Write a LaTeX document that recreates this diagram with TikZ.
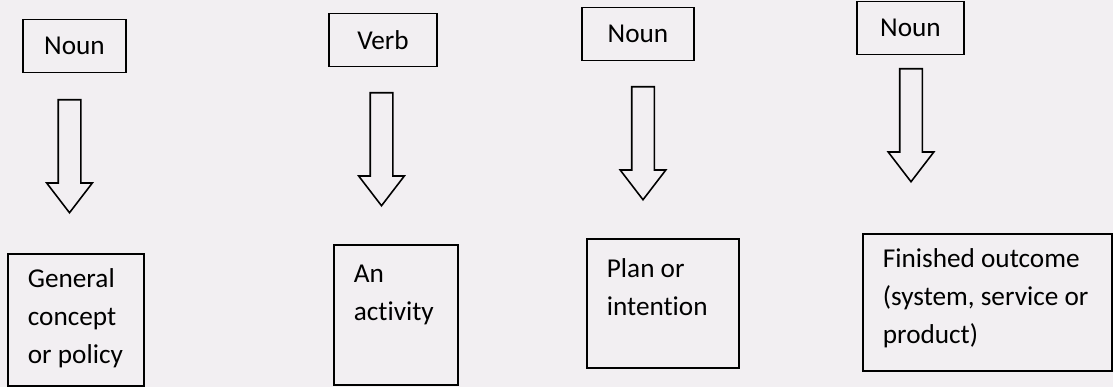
\documentclass[tikz,border=0pt]{standalone}
\usepackage{fontspec}
\setmainfont{Carlito}[Ligatures=NoCommon]
\usetikzlibrary{shapes.arrows, positioning, calc}
\definecolor{paper}{RGB}{242,239,242}
\tikzstyle{wordbox} = [rectangle, minimum height=1.06cm, text centered, draw=black, line width=1pt, font=\fontsize{15.5}{18}\selectfont]
\tikzstyle{meaning} = [rectangle, anchor=north west, align=flush left, inner xsep=0.40cm, inner ysep=0pt, draw=black, line width=1pt, font=\fontsize{15.5}{21.6}\selectfont, execute at begin node={\hyphenpenalty10000 }]
\tikzstyle{blockarrow} = [single arrow, draw=black, line width=0.9pt, rotate=-90, inner xsep=0pt, inner ysep=0.21cm, minimum height=2.26cm, single arrow head extend=0.23cm, single arrow tip angle=75]

\begin{document}
\begin{tikzpicture}

	\path[use as bounding box, fill=paper] (0,0) rectangle (22.26,-7.74);

		% word class boxes on top
		\node (noun1) [wordbox, minimum width=2.06cm] at (1.49,-0.92) {Noun};
		\node (verb) [wordbox, minimum width=2.16cm] at (7.66,-0.80) {Verb};
		\node (noun2) [wordbox, minimum width=2.24cm] at (12.76,-0.68) {Noun};
		\node (noun3) [wordbox, minimum width=2.14cm] at (18.21,-0.56) {Noun};

		% hollow arrows
		\node (arrow1) [blockarrow] at ($(noun1.south)+(-0.10,-1.51)$) {};
		\node (arrow2) [blockarrow] at ($(verb.south)+(-0.03,-1.49)$) {};
		\node (arrow3) [blockarrow] at ($(noun2.south)+(0.10,-1.49)$) {};
		\node (arrow4) [blockarrow] at ($(noun3.south)+(0.01,-1.25)$) {};

		% meanings
		\node (concept) [meaning, text width=1.92cm, text height=0.68cm, text depth=1.96cm] at (0.14,-5.06) {General\\concept\\or policy};
		\node (activity) [meaning, text width=1.68cm, text height=0.76cm, text depth=2.04cm] at (6.66,-4.88) {An\\activity};
		\node (plan) [meaning, text width=2.24cm, text height=0.78cm, text depth=1.80cm] at (11.72,-4.76) {Plan or\\intention};
		\node (outcome) [meaning, text width=4.18cm, text height=0.68cm, text depth=2.06cm] at (17.24,-4.66) {Finished outcome\\(system, service or\\product)};

\end{tikzpicture}
\end{document}
